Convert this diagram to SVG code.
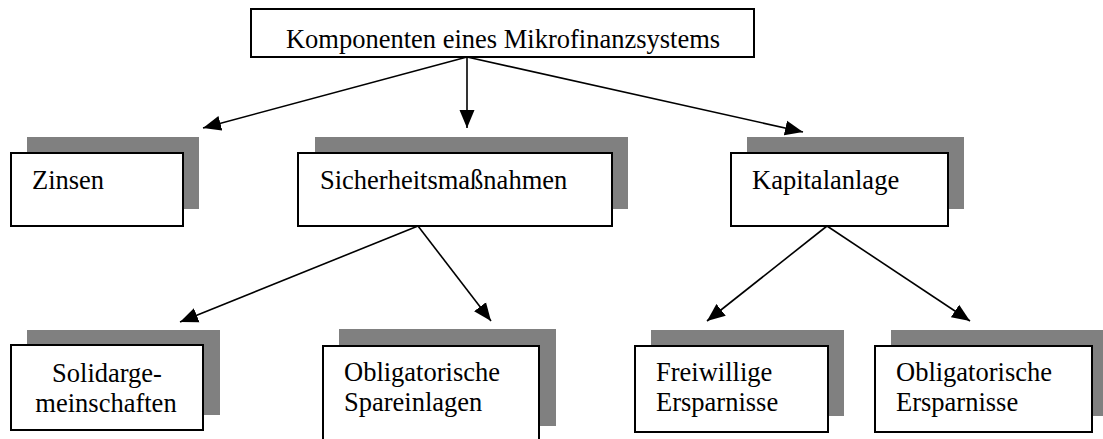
<svg xmlns="http://www.w3.org/2000/svg" width="1103" height="439" viewBox="0 0 1103 439">
<style>
.box{fill:#ffffff;stroke:#000000;stroke-width:2}
.sh{fill:#808080;stroke:none}
.t{font-family:'Liberation Serif','DejaVu Serif',serif;font-size:26.5px;fill:#000000}
.c{stroke:#000000;stroke-width:1.6;fill:none;marker-end:url(#ah)}
</style>
<defs>
<marker id="ah" markerUnits="userSpaceOnUse" markerWidth="19" markerHeight="16" refX="18" refY="8" orient="auto">
<path d="M0,0.5 L18,8 L0,15.5 Z" fill="#000000"/>
</marker>
</defs>
<rect width="1103" height="439" fill="#ffffff"/>
<g id="connectors">
<line class="c" x1="467" y1="57" x2="203" y2="128"/>
<line class="c" x1="467" y1="57" x2="467" y2="128"/>
<line class="c" x1="467" y1="57" x2="803" y2="132"/>
<line class="c" x1="418" y1="226" x2="180" y2="322"/>
<line class="c" x1="418" y1="226" x2="491" y2="321"/>
<line class="c" x1="827" y1="226" x2="707" y2="321"/>
<line class="c" x1="827" y1="226" x2="970" y2="321"/>
</g>
<g id="root">
<rect class="box" x="251" y="9" width="503" height="48"/>
<text class="t" x="503" y="48" text-anchor="middle">Komponenten eines Mikrofinanzsystems</text>
</g>
<g id="zinsen">
<rect class="sh" x="27" y="137" width="172" height="72"/>
<rect class="box" x="11" y="153" width="172" height="73"/>
<text class="t" x="32" y="189">Zinsen</text>
</g>
<g id="sicherheit">
<rect class="sh" x="315" y="137" width="313" height="72"/>
<rect class="box" x="298" y="153" width="314" height="73"/>
<text class="t" x="320" y="189">Sicherheitsmaßnahmen</text>
</g>
<g id="kapital">
<rect class="sh" x="747" y="137" width="217" height="72"/>
<rect class="box" x="731" y="153" width="217" height="73"/>
<text class="t" x="752" y="189">Kapitalanlage</text>
</g>
<g id="solidar">
<rect class="sh" x="27" y="330" width="193" height="85"/>
<rect class="box" x="11" y="345" width="192" height="85"/>
<text class="t" x="107" y="382" text-anchor="middle">Solidarge-</text>
<text class="t" x="106" y="412" text-anchor="middle">meinschaften</text>
</g>
<g id="spareinlagen">
<rect class="sh" x="339" y="329" width="217" height="97"/>
<rect class="box" x="323" y="346" width="216" height="98"/>
<text class="t" x="344" y="381">Obligatorische</text>
<text class="t" x="344" y="411">Spareinlagen</text>
</g>
<g id="freiwillig">
<rect class="sh" x="651" y="330" width="193" height="86"/>
<rect class="box" x="635" y="346" width="193" height="86"/>
<text class="t" x="656" y="381">Freiwillige</text>
<text class="t" x="656" y="411">Ersparnisse</text>
</g>
<g id="obligatorisch">
<rect class="sh" x="891" y="330" width="217" height="86"/>
<rect class="box" x="875" y="346" width="217" height="86"/>
<text class="t" x="896" y="381">Obligatorische</text>
<text class="t" x="896" y="411">Ersparnisse</text>
</g>
</svg>
